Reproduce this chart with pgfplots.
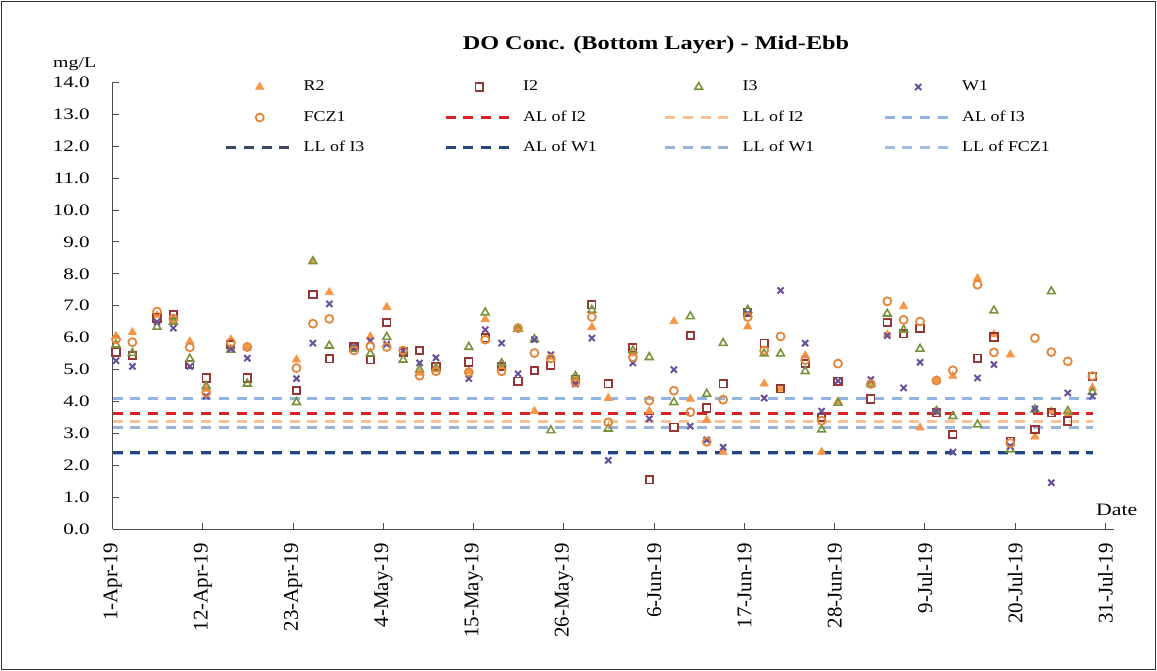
\documentclass[border=0pt]{standalone}
\usepackage{fontspec}
\setmainfont{Liberation Serif}
\usepackage{graphicx}
\usepackage{pgfplots}
\usepackage{pgfplotstable}
\pgfplotsset{compat=1.18}

\definecolor{cR2}{RGB}{247,150,70}
\definecolor{cI2}{RGB}{150,55,53}
\definecolor{cI3}{RGB}{119,147,60}
\definecolor{cW1}{RGB}{105,80,155}
\definecolor{cF}{RGB}{226,135,60}
\definecolor{cALI2}{RGB}{215,35,40}
\definecolor{cLLI2}{RGB}{250,195,150}
\definecolor{cALI3}{RGB}{145,180,225}
\definecolor{cLLI3}{RGB}{60,70,100}
\definecolor{cALW1}{RGB}{35,70,125}
\definecolor{cLLW1}{RGB}{150,180,220}
\definecolor{cLLF}{RGB}{160,190,230}

\pgfplotstableread{
d R2 I2 I3 W1 F
0.4 6.05 5.55 5.78 5.28 5.95
2.4 6.17 5.44 5.52 5.10 5.86
5.4 6.70 6.62 6.34 6.50 6.82
7.4 6.60 6.72 6.50 6.30 6.60
9.4 5.88 5.16 5.34 5.10 5.70
11.4 4.40 4.74 4.48 4.17 4.28
14.4 5.94 5.78 5.62 5.65 5.85
16.4 5.70 4.74 4.56 5.36 5.71
22.4 5.31 4.35 3.98 4.72 5.05
24.4 8.40 7.36 8.39 5.83 6.44
26.4 7.42 5.34 5.75 7.06 6.59
29.4 5.68 5.72 5.65 5.70 5.60
31.4 6.04 5.31 5.50 5.90 5.73
33.4 6.96 6.48 6.02 5.80 5.71
35.4 5.50 5.55 5.31 5.58 5.60
37.4 4.90 5.60 5.00 5.21 4.81
39.4 5.00 5.10 5.05 5.37 4.95
43.4 4.95 5.24 5.71 4.72 4.92
45.4 6.58 6.00 6.79 6.25 5.94
47.4 5.10 5.10 5.20 5.83 4.95
49.4 6.30 4.64 6.28 4.87 6.30
51.4 3.70 4.97 5.95 5.94 5.52
53.4 5.40 5.14 3.10 5.47 5.35
56.4 4.70 4.70 4.80 4.55 4.60
58.4 6.33 7.03 6.87 5.99 6.65
60.4 4.11 4.56 3.15 2.16 3.35
63.4 5.50 5.68 5.60 5.21 5.39
65.4 3.70 1.55 5.39 3.46 4.03
68.4 6.51 3.20 3.98 5.00 4.34
70.4 4.08 6.07 6.67 3.23 3.67
72.4 3.42 3.80 4.24 2.80 2.74
74.4 2.42 4.56 5.83 2.57 4.06
77.4 6.35 6.80 6.87 6.75 6.65
79.4 4.56 5.83 5.50 4.11 5.60
81.4 4.40 4.40 5.50 7.48 6.04
84.4 5.44 5.19 4.95 5.83 5.30
86.4 2.42 3.50 3.12 3.70 3.40
88.4 4.00 4.64 3.96 4.65 5.19
92.4 4.60 4.08 4.55 4.69 4.55
94.4 6.10 6.48 6.75 6.06 7.14
96.4 6.98 6.12 6.25 4.43 6.56
98.4 3.18 6.30 5.65 5.23 6.51
100.4 4.66 3.65 3.70 3.70 4.66
102.4 4.80 2.97 3.54 2.42 4.98
105.4 7.86 5.36 3.28 4.74 7.66
107.4 6.10 6.02 6.85 5.16 5.54
109.4 5.47 2.76 2.50 2.60 2.70
112.4 2.90 3.12 3.75 3.77 5.99
114.4 3.70 3.65 7.45 1.46 5.55
116.4 3.60 3.39 3.70 4.27 5.26
119.4 4.43 4.79 4.30 4.17 4.80
}\data

\pgfplotsset{
  mkimg/.style={legend image code/.code={\path[draw=none, fill=none] (0bp,-5bp) -- (67bp,5bp); \draw[##1] plot coordinates {(33.5bp,0bp)};}},
  lnimg/.style={legend image code/.code={\draw[##1] (0bp,0bp) -- (67bp,0bp);}},
  dl/.style={line width=3bp, dash pattern=on 10bp off 7.7bp},
}
\newcommand{\lt}[1]{\makebox[149.5bp][l]{\hspace{9bp}\scalebox{1.2}[1]{#1}}}

\begin{document}
\begin{tikzpicture}
\path[use as bounding box] (-112.7bp,-141.7bp) rectangle (1044.3bp,529.3bp);
\begin{axis}[
  scale only axis, width=1001bp, height=447bp,
  xmin=0, xmax=122, ymin=0, ymax=14,
  axis lines*=left,
  axis line style={black!70, line width=1.1bp},
  tick style={black!70, line width=1bp},
  major tick length=6bp,
  tick align=inside,
  xtick={0,11,...,121},
  xticklabels={1-Apr-19,12-Apr-19,23-Apr-19,4-May-19,15-May-19,26-May-19,6-Jun-19,17-Jun-19,28-Jun-19,9-Jul-19,20-Jul-19,31-Jul-19},
  xticklabel style={font=\fontsize{21}{24}\selectfont, yshift=-14bp, rotate=90, anchor=east, inner sep=0pt},
  ytick={0,1,...,14},
  yticklabel style={/pgf/number format/.cd, fixed, fixed zerofill, precision=1, assume math mode=true, /tikz/.cd,
     font=\fontsize{16}{18}\selectfont, inner sep=0pt, xshift=-22.7bp, xscale=1.32, anchor=east},
  legend columns=4,
  legend cell align=left,
  legend style={draw=none, fill=none, at={(0,1)}, anchor=north west, xshift=112bp, yshift=2.3bp,
     inner sep=0pt, outer sep=0pt, row sep=16.5bp, column sep=0pt,
     font=\fontsize{15}{18}\selectfont,
     nodes={inner sep=0pt, text height=11bp, text depth=3bp}},
]
% limit lines (drawn first, below the markers)
\addplot[cALI2, dl, forget plot] coordinates {(0,3.63) (119.5,3.63)};
\addplot[cLLI2, dl, forget plot] coordinates {(0,3.37) (119.5,3.37)};
\addplot[cALI3, dl, forget plot] coordinates {(0,4.10) (119.5,4.10)};
\addplot[cLLF, dl, forget plot] coordinates {(0,2.36) (119.5,2.36)};
\addplot[cLLW1, dl, forget plot] coordinates {(0,3.18) (119.5,3.18)};
\addplot[cLLI3, dl, forget plot] coordinates {(0,2.42) (119.5,2.42)};
\addplot[cALW1, dl, forget plot] coordinates {(0,2.41) (119.5,2.41)};

\addplot[only marks, mark=triangle*, mark size=4.6bp, cR2, mark options={fill=cR2, draw=cR2, line width=0.8bp}, mkimg] table[x=d, y=R2] {\data};
\addlegendentry{\lt{R2}}
\addplot[only marks, mark=square, mark size=3.7bp, cI2, mark options={line width=1.8bp}, mkimg] table[x=d, y=I2] {\data};
\addlegendentry{\lt{I2}}
\addplot[only marks, mark=triangle, mark size=4.5bp, cI3, mark options={line width=1.6bp}, mkimg] table[x=d, y=I3] {\data};
\addlegendentry{\lt{I3}}
\addplot[only marks, mark=x, mark size=4.3bp, cW1, mark options={line width=2bp}, mkimg] table[x=d, y=W1] {\data};
\addlegendentry{\lt{W1}}
\addplot[only marks, mark=o, mark size=4bp, cF, mark options={line width=1.8bp}, mkimg] table[x=d, y=F] {\data};
\addlegendentry{\lt{FCZ1}}

\addlegendimage{cALI2, dl, lnimg}
\addlegendentry{\lt{AL of I2}}
\addlegendimage{cLLI2, dl, lnimg}
\addlegendentry{\lt{LL of I2}}
\addlegendimage{cALI3, dl, lnimg}
\addlegendentry{\lt{AL of I3}}
\addlegendimage{cLLI3, dl, lnimg}
\addlegendentry{\lt{LL of I3}}
\addlegendimage{cALW1, dl, lnimg}
\addlegendentry{\lt{AL of W1}}
\addlegendimage{cLLW1, dl, lnimg}
\addlegendentry{\lt{LL of W1}}
\addlegendimage{cLLF, dl, lnimg}
\addlegendentry{\lt{LL of FCZ1}}
\end{axis}
\node[font=\bfseries\fontsize{19.5}{22}\selectfont, xscale=1.25] at (543.3bp,484.3bp) {DO Conc. (Bottom Layer) - Mid-Ebb};
\node[font=\fontsize{15}{18}\selectfont, xscale=1.33] at (-38bp,465.3bp) {mg/L};
\node[font=\fontsize{17.5}{20}\selectfont, xscale=1.25] at (1004bp,19.3bp) {Date};
\draw[black!80, line width=1bp] (-111.2bp,527.8bp) rectangle (1042.8bp,-140.2bp);
\end{tikzpicture}
\end{document}
